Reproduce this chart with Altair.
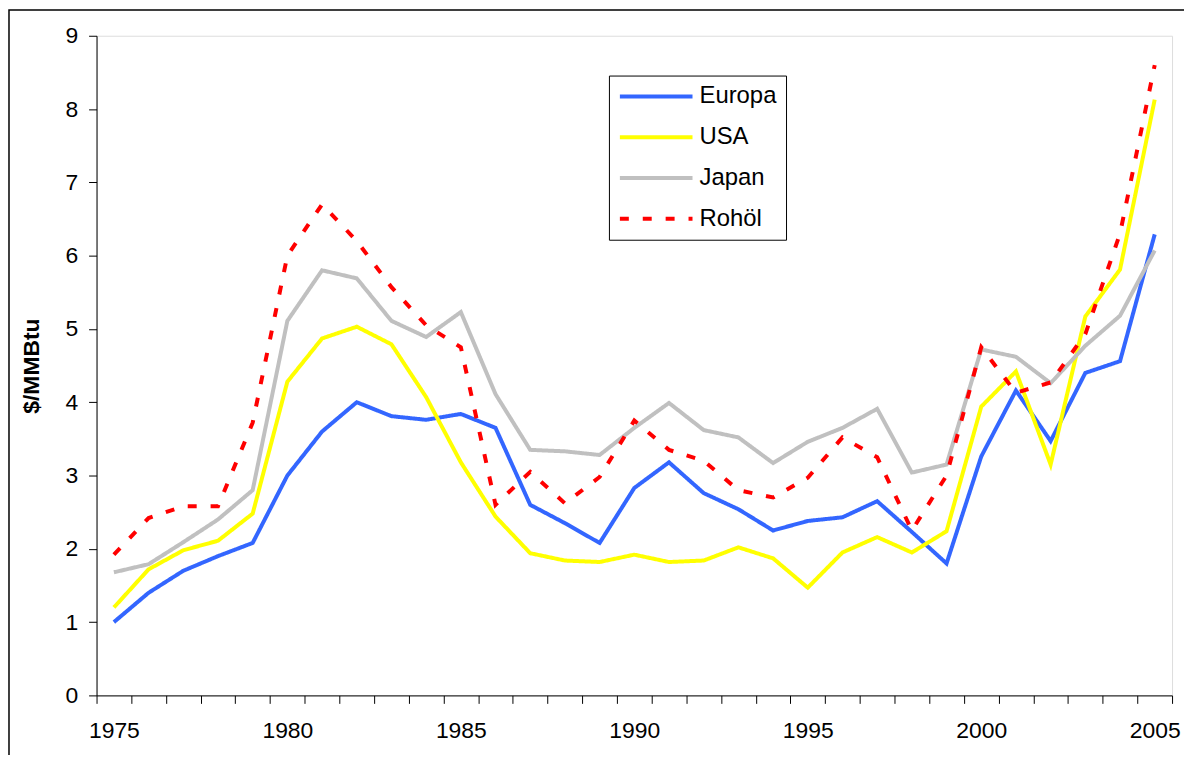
import altair as alt
import pandas as pd

years = list(range(1975, 2006))
series_names = ["Europa", "USA", "Japan", "Rohöl"]
europa = [1.0, 1.4, 1.7, 1.9, 2.08, 3.0, 3.6, 4.0, 3.81, 3.76, 3.84, 3.65, 2.6, 2.35, 2.08,
          2.83, 3.18, 2.76, 2.54, 2.25, 2.38, 2.43, 2.65, 2.23, 1.8, 3.26, 4.16, 3.47, 4.4, 4.56, 6.29]
usa = [1.2, 1.72, 1.98, 2.11, 2.48, 4.28, 4.87, 5.03, 4.79, 4.07, 3.18, 2.44, 1.94, 1.84, 1.82,
       1.92, 1.82, 1.84, 2.02, 1.87, 1.47, 1.95, 2.16, 1.95, 2.24, 3.94, 4.42, 3.15, 5.17, 5.81, 8.13]
japan = [1.68, 1.79, 2.09, 2.4, 2.8, 5.11, 5.8, 5.69, 5.11, 4.89, 5.23, 4.11, 3.35, 3.33, 3.28,
         3.65, 3.99, 3.62, 3.52, 3.17, 3.46, 3.65, 3.91, 3.04, 3.15, 4.72, 4.62, 4.26, 4.77, 5.18, 6.07]
rohoel = [1.92, 2.42, 2.58, 2.58, 3.72, 6.0, 6.7, 6.2, 5.57, 5.05, 4.75, 2.6, 3.05, 2.62, 2.98,
          3.75, 3.35, 3.2, 2.8, 2.7, 2.97, 3.52, 3.25, 2.25, 3.0, 4.75, 4.13, 4.27, 4.93, 6.3, 8.6]
colors = ["#3366FF", "#FFFF00", "#C0C0C0", "#FF0000"]
dashes = [[1, 0], [1, 0], [1, 0], [9, 14]]

rows = []
for name, vals in zip(series_names, [europa, usa, japan, rohoel]):
    for y, v in zip(years, vals):
        rows.append({"Jahr": y, "Wert": v, "Serie": name})
df = pd.DataFrame(rows)

FONT = "Liberation Sans"
W, H = 1081, 663

legend = alt.Legend(
    title=None, orient="none", legendX=515, legendY=40,
    symbolType="stroke", symbolSize=5329, symbolStrokeWidth=4,
    clipHeight=24,
    labelFont=FONT, labelFontSize=24, labelColor="black", labelOffset=5,
    rowPadding=17, padding=9, strokeColor="black", fillColor="white",
)

lines = alt.Chart(df).mark_line(strokeWidth=4, strokeCap="butt").encode(
    x=alt.X("Jahr:O", title=None,
            scale=alt.Scale(type="band", paddingInner=0, paddingOuter=0),
            axis=alt.Axis(labelExpr="datum.value % 5 == 0 ? datum.label : ''",
                          labelAngle=0, labelOverlap=False, tickBand="extent",
                          tickSize=8, tickColor="black", domainColor="black",
                          labelFont=FONT, labelFontSize=23, labelColor="black",
                          labelPadding=16)),
    y=alt.Y("Wert:Q", title="$/MMBtu",
            scale=alt.Scale(domain=[0, 9], nice=False, zero=True),
            axis=alt.Axis(values=list(range(0, 10)), grid=False, tickSize=8,
                          tickColor="black", domainColor="black",
                          labelFont=FONT, labelFontSize=23, labelColor="black",
                          labelPadding=11, titleFont=FONT, titleFontSize=23,
                          titleFontWeight="bold", titleColor="black", titlePadding=22)),
    color=alt.Color("Serie:N", scale=alt.Scale(domain=series_names, range=colors),
                    sort=series_names, legend=legend),
    strokeDash=alt.StrokeDash("Serie:N", scale=alt.Scale(domain=series_names, range=dashes),
                              sort=series_names, legend=legend),
    order=alt.Order("Jahr:O"),
)

frame = alt.Chart(alt.Data(values=[{"f": 1}])).mark_rect(
    fill="transparent", stroke="black", strokeWidth=1.5
).encode(
    x=alt.value(-88), x2=alt.value(W + 200), y=alt.value(-26), y2=alt.value(H + 200)
)

chart = alt.layer(frame, lines).properties(
    width=W, height=H,
    autosize=alt.AutoSizeParams(type="none"),
    padding={"left": 89, "top": 26, "right": 12, "bottom": 58},
).configure_view(stroke="#888888", strokeWidth=2).configure(background="white")

chart.save("out.html", embed_options={"renderer": "svg", "actions": False})
